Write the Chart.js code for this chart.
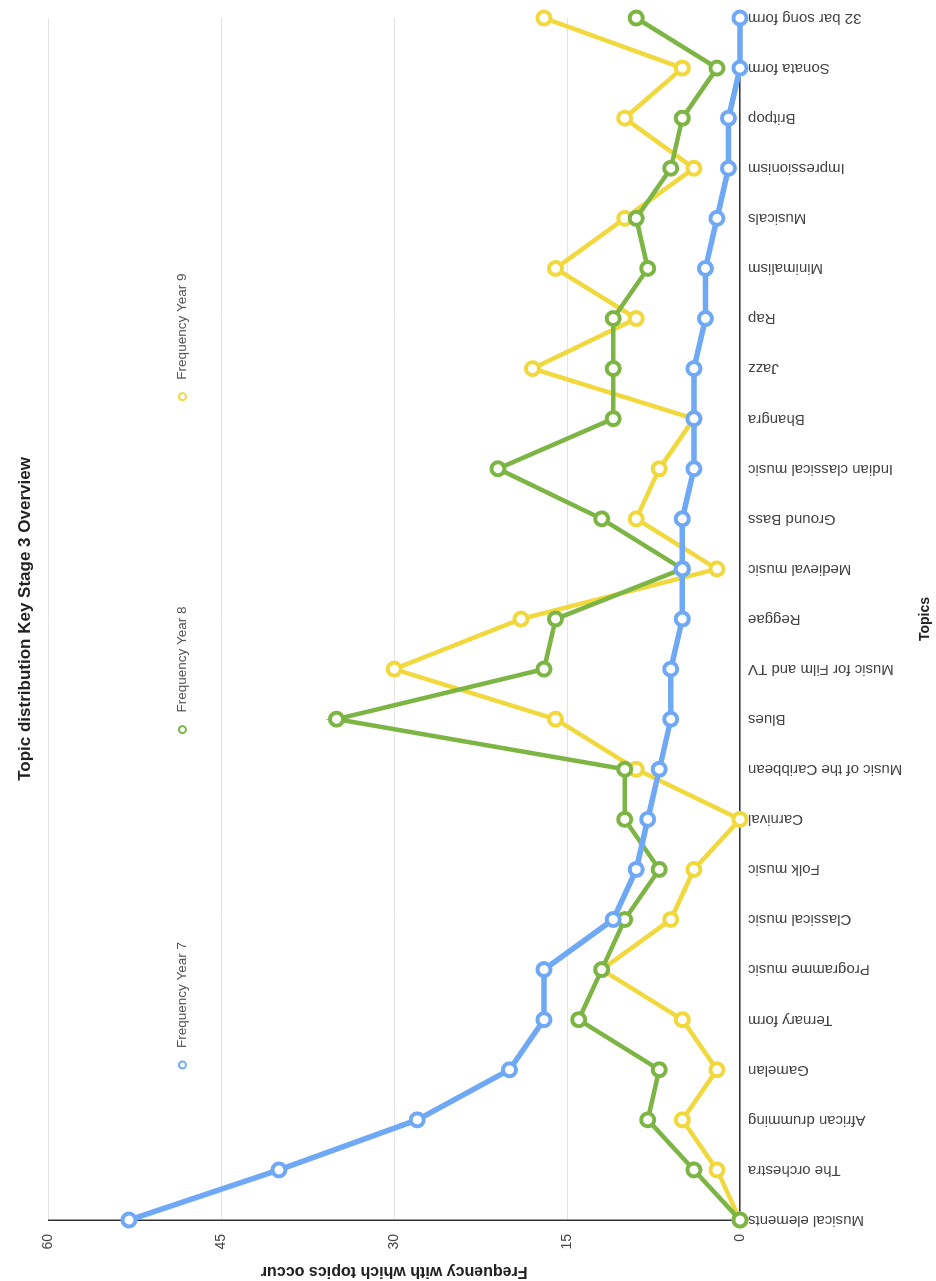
<!DOCTYPE html>
<html>
<head>
<meta charset="utf-8">
<script src="https://cdn.jsdelivr.net/npm/chart.js@4/dist/chart.umd.min.js"></script>
<style>
  html, body { margin: 0; padding: 0; width: 936px; height: 1281px; overflow: hidden; background: #fff; }
  /* the chart is drawn landscape and turned a quarter turn to the left */
  #wrap {
    position: absolute; left: 0; top: 0;
    width: 1281px; height: 936px;
    transform-origin: 0 0;
    transform: translate(0, 1281px) rotate(-90deg);
  }
</style>
</head>
<body>
<div id="wrap"><canvas id="myChart" width="1281" height="936"></canvas></div>
<script>
const topics = [
  "Musical elements", "The orchestra", "African drumming", "Gamelan", "Ternary form",
  "Programme music", "Classical music", "Folk music", "Carnival", "Music of the Caribbean",
  "Blues", "Music for Film and TV", "Reggae", "Medieval music", "Ground Bass",
  "Indian classical music", "Bhangra", "Jazz", "Rap", "Minimalism",
  "Musicals", "Impressionism", "Britpop", "Sonata form", "32 bar song form",
];
const year7 = [53, 40, 28, 20, 17, 17, 11, 9, 8, 7, 6, 6, 5, 5, 5, 4, 4, 4, 3, 3, 2, 1, 1, 0, 0];
const year8 = [0, 4, 8, 7, 14, 12, 10, 7, 10, 10, 35, 17, 16, 5, 12, 21, 11, 11, 11, 8, 9, 6, 5, 2, 9];
const year9 = [0, 2, 5, 2, 5, 12, 6, 4, 0, 9, 16, 30, 19, 2, 9, 7, 4, 18, 9, 16, 10, 4, 10, 5, 17];
const yTicks = [0, 15, 30, 45, 60];

Chart.defaults.font.family = "'Liberation Sans', Arial, sans-serif";

function series(label, values, color, width) {
  return {
    label: label,
    data: values,
    borderColor: color,
    borderWidth: width,
    pointBackgroundColor: "#ffffff",
    pointBorderColor: color,
    pointBorderWidth: 4,
    pointRadius: 6.5,
    pointHoverRadius: 6.5,
    tension: 0,
    clip: false,
  };
}

// legend sits inside the plot, items spread out along the top
const insideLegend = {
  id: "insideLegend",
  afterDraw(chart) {
    const { ctx, chartArea } = chart;
    const spots = [0.129, 0.408, 0.685];
    ctx.save();
    ctx.font = "13.5px 'Liberation Sans', Arial, sans-serif";
    ctx.textBaseline = "middle";
    ctx.textAlign = "left";
    chart.data.datasets.forEach((ds, i) => {
      const x = chartArea.left + chartArea.width * spots[i];
      const y = chartArea.top + 134;
      ctx.beginPath();
      ctx.arc(x, y, 3.5, 0, Math.PI * 2);
      ctx.fillStyle = "#ffffff";
      ctx.fill();
      ctx.lineWidth = 2;
      ctx.strokeStyle = ds.borderColor;
      ctx.stroke();
      ctx.fillStyle = "#555555";
      ctx.fillText(ds.label, x + 17, y);
    });
    ctx.restore();
  },
};

const data = {
  labels: topics,
  datasets: [
    series("Frequency Year 7", year7, "#6fa8f5", 5.5),
    series("Frequency Year 8", year8, "#7cb544", 4.5),
    series("Frequency Year 9", year9, "#f1d83c", 4.5),
  ],
};

const config = {
  type: "line",
  data: data,
  options: {
    responsive: false,
    animation: false,
    layout: { padding: 0 },
    plugins: {
      legend: { display: false },
      tooltip: { enabled: false },
      title: {
        display: true,
        text: "Topic distribution Key Stage 3 Overview",
        fullSize: false,
        color: "#222222",
        font: { size: 17, weight: "bold" },
        padding: { top: 15, bottom: 13 },
      },
    },
    scales: {
      x: {
        afterFit(scale) {
          scale.height = 196;
          scale.paddingRight = 18;
        },
        grid: { display: false, drawTicks: false },
        border: { display: true, color: "#333333", width: 1.5 },
        ticks: {
          minRotation: 90,
          maxRotation: 90,
          autoSkip: false,
          padding: 8,
          color: "#444444",
          font: { size: 15 },
        },
        title: {
          display: true,
          text: "Topics",
          color: "#222222",
          font: { size: 14, weight: "bold" },
          padding: { top: 13, bottom: 2 },
        },
      },
      y: {
        min: 0,
        max: 60,
        afterBuildTicks(scale) {
          scale.ticks = yTicks.map((v) => ({ value: v }));
        },
        afterFit(scale) {
          scale.width = 61;
        },
        grid: { color: "#e4e4e4", lineWidth: 1, drawTicks: false },
        border: { display: true, color: "#333333", width: 1.5 },
        ticks: {
          padding: 14,
          color: "#444444",
          font: { size: 14 },
        },
        title: {
          display: true,
          text: "Frequency with which topics occur",
          color: "#222222",
          font: { size: 16, weight: "bold" },
          padding: { top: 0, bottom: 12 },
        },
      },
    },
  },
  plugins: [insideLegend],
};

const myChart = new Chart(document.getElementById("myChart"), config);
</script>
</body>
</html>
